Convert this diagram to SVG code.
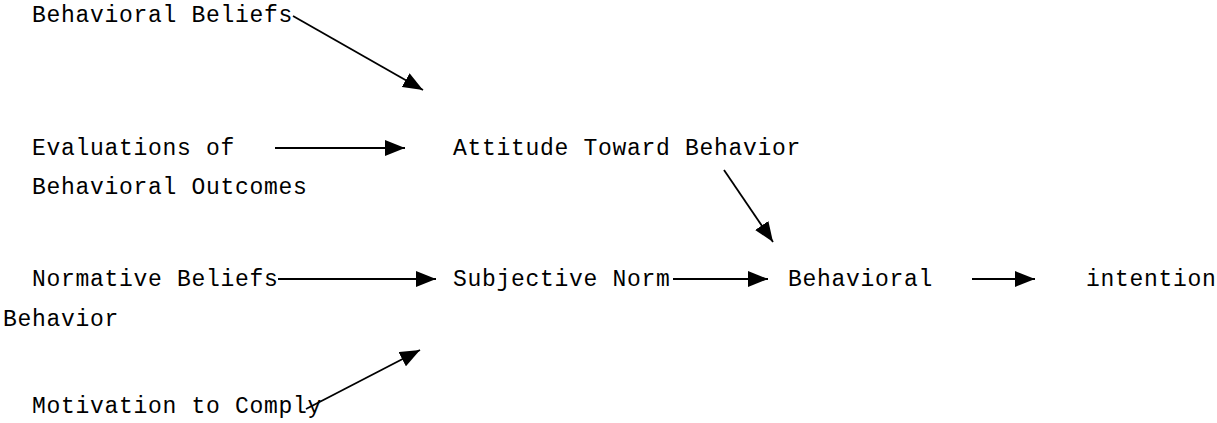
<svg xmlns="http://www.w3.org/2000/svg" width="1217" height="423" viewBox="0 0 1217 423">
<style>
text{font-family:"Liberation Mono","DejaVu Sans Mono",monospace;font-size:23px;letter-spacing:0.7px;fill:#000}
.c{stroke:#000;stroke-width:1.8;fill:none}
</style>
<defs>
<marker id="ah" markerUnits="userSpaceOnUse" markerWidth="20" markerHeight="16" refX="20" refY="8" orient="auto">
<path d="M0,0 L20,8 L0,16 Z" fill="#000"/>
</marker>
</defs>
<rect width="1217" height="423" fill="#fff"/>
<g id="behavioral-beliefs"><text x="32" y="22">Behavioral Beliefs</text></g>
<g id="evaluations"><text x="32" y="155">Evaluations of</text><text x="32" y="194">Behavioral Outcomes</text></g>
<g id="attitude"><text x="453" y="155">Attitude Toward Behavior</text></g>
<g id="normative-beliefs"><text x="32" y="286">Normative Beliefs</text></g>
<g id="behavior"><text x="3" y="326">Behavior</text></g>
<g id="subjective-norm"><text x="453" y="286">Subjective Norm</text></g>
<g id="behavioral"><text x="788" y="286">Behavioral</text></g>
<g id="intention"><text x="1086" y="286">intention</text></g>
<g id="motivation"><text x="32" y="413">Motivation to Comply</text></g>
<g id="connectors">
<line class="c" x1="293" y1="16" x2="423" y2="90" marker-end="url(#ah)"/>
<line class="c" x1="275" y1="148" x2="405" y2="148" marker-end="url(#ah)"/>
<line class="c" x1="724" y1="170" x2="773" y2="242" marker-end="url(#ah)"/>
<line class="c" x1="278" y1="279" x2="436" y2="279" marker-end="url(#ah)"/>
<line class="c" x1="673" y1="279" x2="768" y2="279" marker-end="url(#ah)"/>
<line class="c" x1="972" y1="279" x2="1035" y2="279" marker-end="url(#ah)"/>
<line class="c" x1="306" y1="409" x2="420" y2="350" marker-end="url(#ah)"/>
</g>
</svg>
